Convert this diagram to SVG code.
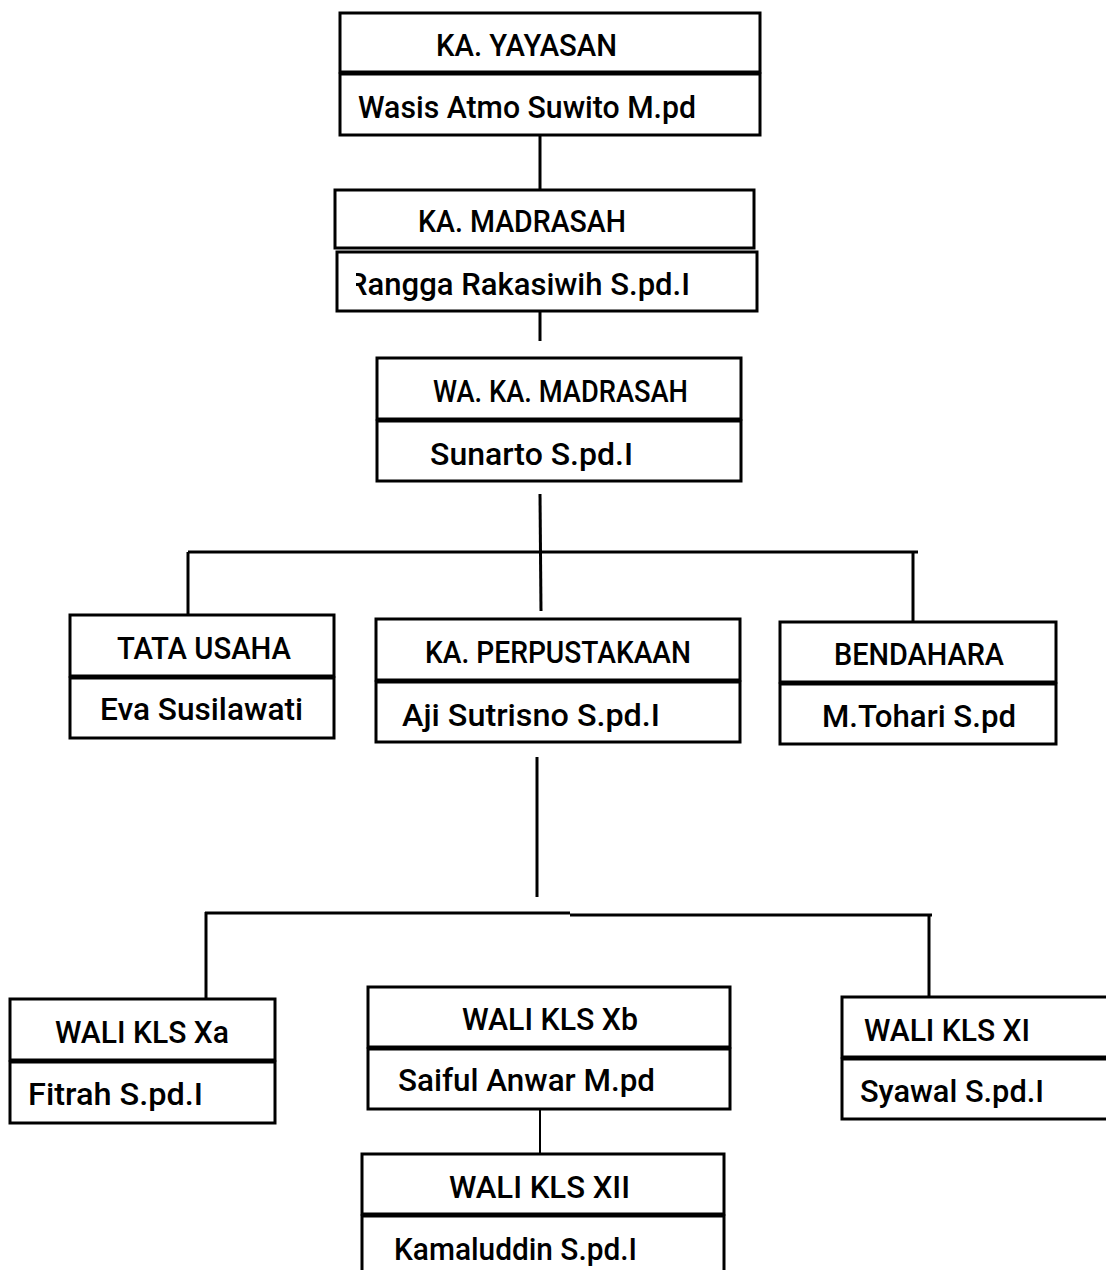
<svg xmlns="http://www.w3.org/2000/svg" width="1106" height="1270" viewBox="0 0 1106 1270">
<style>
.box{fill:#fff;stroke:#000;stroke-width:3}
.ln{stroke:#000;stroke-width:3;fill:none}
text{font-family:Roboto,"Liberation Sans",Arial,sans-serif;font-size:31px;font-weight:500;fill:#000}
</style>
<defs>
<clipPath id="clipR"><rect x="356" y="252" width="400" height="60"/></clipPath>
</defs>
<rect width="1106" height="1270" fill="#fff"/>
<g id="connectors">
<line class="ln" x1="540" y1="135" x2="540" y2="189"/>
<line class="ln" x1="540" y1="311" x2="540" y2="341"/>
<line class="ln" x1="540" y1="494" x2="541" y2="611"/>
<line class="ln" x1="188" y1="552" x2="918" y2="552"/>
<line class="ln" x1="188" y1="552" x2="188" y2="615"/>
<line class="ln" x1="913" y1="552" x2="913" y2="622"/>
<line class="ln" x1="537" y1="757" x2="537" y2="897"/>
<line class="ln" x1="205" y1="913" x2="570" y2="913"/>
<line class="ln" x1="570" y1="915" x2="932" y2="915"/>
<line class="ln" x1="206" y1="912" x2="206" y2="998"/>
<line class="ln" x1="929" y1="914" x2="929" y2="998"/>
<line class="ln" x1="540" y1="1109" x2="540" y2="1154" style="stroke-width:2"/>
</g>
<g id="ka-yayasan">
<rect class="box" x="340" y="13" width="420" height="59"/>
<rect class="box" x="340" y="74" width="420" height="61"/>
<text x="436" y="56" textLength="181" lengthAdjust="spacingAndGlyphs">KA. YAYASAN</text>
<text x="358" y="118" textLength="338" lengthAdjust="spacingAndGlyphs">Wasis Atmo Suwito M.pd</text>
</g>
<g id="ka-madrasah">
<rect class="box" x="335" y="190" width="419" height="58"/>
<rect class="box" x="337" y="252" width="420" height="59"/>
<text x="418" y="232" textLength="208" lengthAdjust="spacingAndGlyphs">KA. MADRASAH</text>
<text x="348" y="295" textLength="342" lengthAdjust="spacingAndGlyphs" clip-path="url(#clipR)">Rangga Rakasiwih S.pd.I</text>
</g>
<g id="waka-madrasah">
<rect class="box" x="377" y="358" width="364" height="61"/>
<rect class="box" x="377" y="421" width="364" height="60"/>
<text x="433" y="402" textLength="255" lengthAdjust="spacingAndGlyphs">WA. KA. MADRASAH</text>
<text x="430" y="465" textLength="203" lengthAdjust="spacingAndGlyphs">Sunarto S.pd.I</text>
</g>
<g id="tata-usaha">
<rect class="box" x="70" y="615" width="264" height="61"/>
<rect class="box" x="70" y="678" width="264" height="60"/>
<text x="117" y="659" textLength="174" lengthAdjust="spacingAndGlyphs">TATA USAHA</text>
<text x="100" y="720" textLength="203" lengthAdjust="spacingAndGlyphs">Eva Susilawati</text>
</g>
<g id="ka-perpustakaan">
<rect class="box" x="376" y="619" width="364" height="61"/>
<rect class="box" x="376" y="682" width="364" height="60"/>
<text x="425" y="663" textLength="266" lengthAdjust="spacingAndGlyphs">KA. PERPUSTAKAAN</text>
<text x="402" y="726" textLength="258" lengthAdjust="spacingAndGlyphs">Aji Sutrisno S.pd.I</text>
</g>
<g id="bendahara">
<rect class="box" x="780" y="622" width="276" height="60"/>
<rect class="box" x="780" y="684" width="276" height="60"/>
<text x="834" y="665" textLength="170" lengthAdjust="spacingAndGlyphs">BENDAHARA</text>
<text x="822" y="727" textLength="194" lengthAdjust="spacingAndGlyphs">M.Tohari S.pd</text>
</g>
<g id="wali-xa">
<rect class="box" x="10" y="999" width="265" height="61"/>
<rect class="box" x="10" y="1062" width="265" height="61"/>
<text x="55" y="1043" textLength="174" lengthAdjust="spacingAndGlyphs">WALI KLS Xa</text>
<text x="28" y="1105" textLength="175" lengthAdjust="spacingAndGlyphs">Fitrah S.pd.I</text>
</g>
<g id="wali-xb">
<rect class="box" x="368" y="987" width="362" height="60"/>
<rect class="box" x="368" y="1049" width="362" height="60"/>
<text x="462" y="1030" textLength="176" lengthAdjust="spacingAndGlyphs">WALI KLS Xb</text>
<text x="398" y="1091" textLength="257" lengthAdjust="spacingAndGlyphs">Saiful Anwar M.pd</text>
</g>
<g id="wali-xi">
<rect class="box" x="842" y="997" width="275" height="60"/>
<rect class="box" x="842" y="1059" width="275" height="60"/>
<text x="864" y="1041" textLength="166" lengthAdjust="spacingAndGlyphs">WALI KLS XI</text>
<text x="860" y="1102" textLength="184" lengthAdjust="spacingAndGlyphs">Syawal S.pd.I</text>
</g>
<g id="wali-xii">
<rect class="box" x="362" y="1154" width="362" height="60"/>
<rect class="box" x="362" y="1216" width="362" height="70"/>
<text x="449" y="1198" textLength="181" lengthAdjust="spacingAndGlyphs">WALI KLS XII</text>
<text x="394" y="1260" textLength="243" lengthAdjust="spacingAndGlyphs">Kamaluddin S.pd.I</text>
</g>
</svg>
